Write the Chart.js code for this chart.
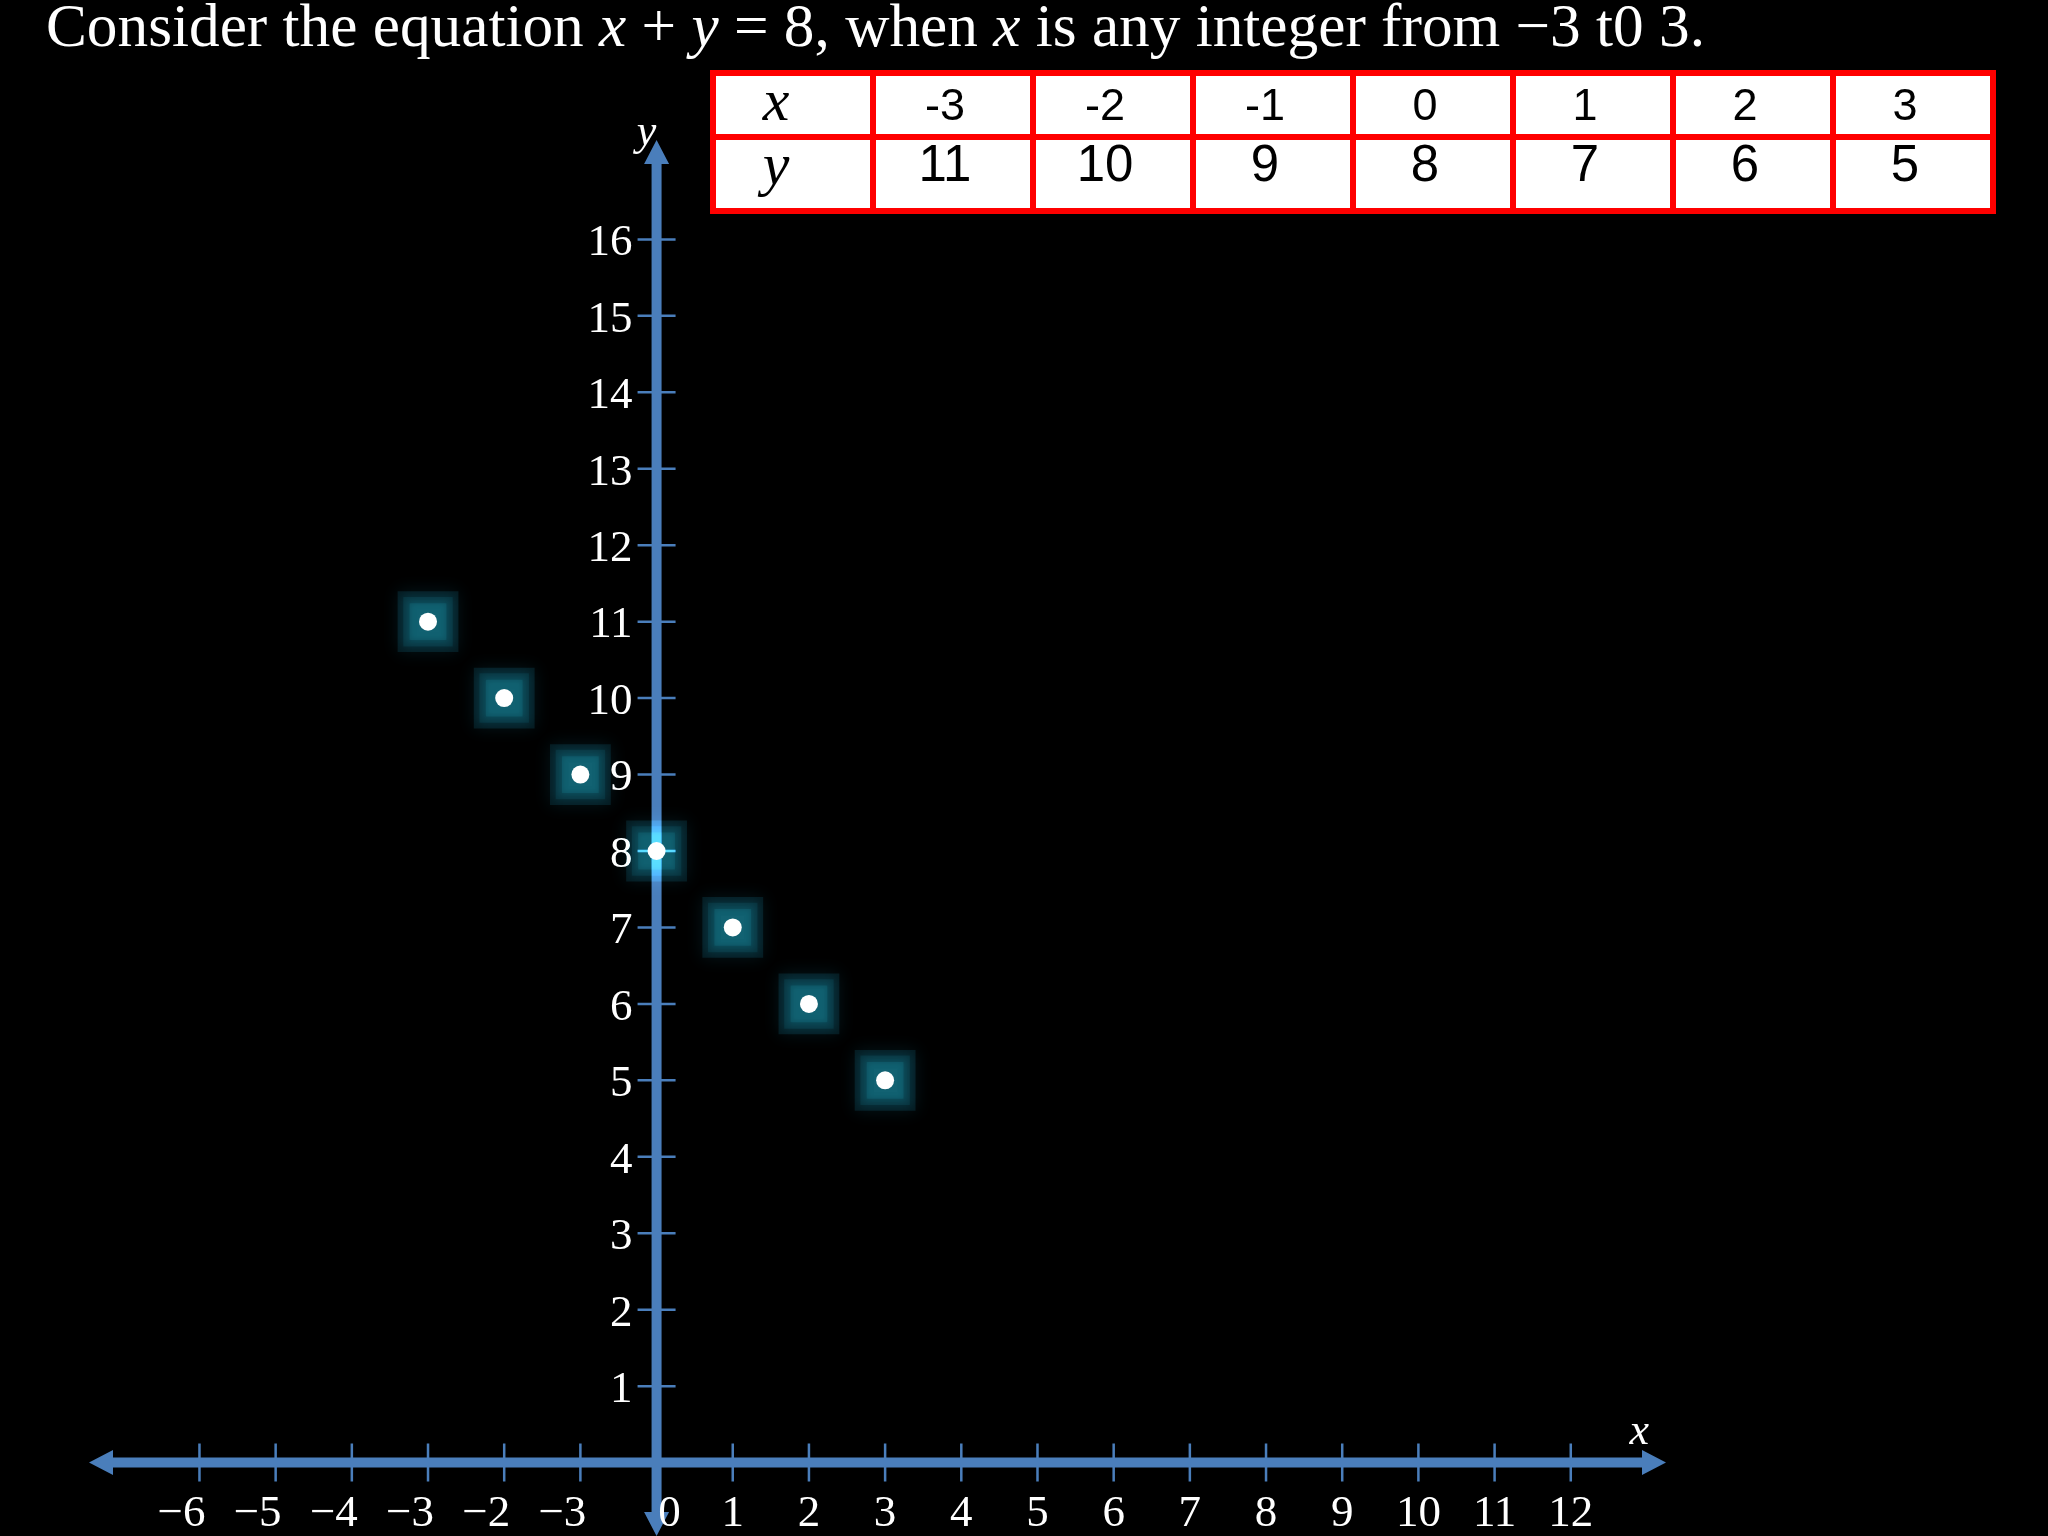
<!DOCTYPE html>
<html>
<head>
<meta charset="utf-8">
<script src="https://cdn.jsdelivr.net/npm/chart.js@4.4.0/dist/chart.umd.min.js"></script>
<style>
  html, body { margin:0; padding:0; background:#000; width:2048px; height:1536px; overflow:hidden; }
  #chartBox { position:absolute; left:0; top:0; width:2048px; height:1536px; }
  #title { position:absolute; left:46px; top:-5px; color:#fff; font-family:"Liberation Serif", "DejaVu Serif", serif;
           font-size:61px; line-height:61px; white-space:nowrap; transform-origin:left top; }
  #title i { font-style:italic; }
  #valTable { position:absolute; left:710px; top:70px; border-collapse:collapse; border:6px solid #ff0000; background:#fff; z-index:2; }
  #valTable td { border:6px solid #ff0000; padding:0; width:154px; background:#fff; }
  #valTable td div { box-sizing:border-box; text-align:center; color:#000; white-space:nowrap; }
  .r1 div { height:58px; line-height:58px; font-family:"Liberation Sans", "Open Sans", sans-serif; font-size:45px; padding-right:16px; }
  .r2 div { height:68px; line-height:48px; font-family:"Liberation Sans", "Open Sans", sans-serif; font-size:51px; padding-right:16px; }
  #valTable td.hd div { font-family:"Liberation Serif", serif; font-style:italic; font-size:60px; padding-right:34px; }
  .r1 td.hd div { position:relative; top:-5px; }
</style>
</head>
<body>
<div id="chartBox"><canvas id="c" width="2048" height="1536"></canvas></div>
<div id="title">Consider the equation <i>x</i> + <i>y</i> = 8, when <i>x</i> is any integer from −3 t0 3.</div>
<table id="valTable"><tbody><tr class="r1"></tr><tr class="r2"></tr></tbody></table>
<script>
// ---- data ----
const xValues = [-3, -2, -1, 0, 1, 2, 3];
const yValues = [11, 10, 9, 8, 7, 6, 5];
const rowNames = ['x', 'y'];
const xTickValues = [-6, -5, -4, -3, -2, -1, 0, 1, 2, 3, 4, 5, 6, 7, 8, 9, 10, 11, 12];
const xTickLabels = ['−6', '−5', '−4', '−3', '−2', '−3', '0', '1', '2', '3', '4', '5', '6', '7', '8', '9', '10', '11', '12'];
const yTickValues = [1, 2, 3, 4, 5, 6, 7, 8, 9, 10, 11, 12, 13, 14, 15, 16];
const yTickLabels = ['1', '2', '3', '4', '5', '6', '7', '8', '9', '10', '11', '12', '13', '14', '15', '16'];
const axisNames = ['x', 'y'];

// ---- table ----
(function buildTable() {
  const rows = document.querySelectorAll('#valTable tr');
  const series = [xValues, yValues];
  rows.forEach((tr, r) => {
    const hd = document.createElement('td');
    hd.className = 'hd';
    hd.innerHTML = '<div>' + rowNames[r] + '</div>';
    tr.appendChild(hd);
    series[r].forEach(v => {
      const td = document.createElement('td');
      const d = document.createElement('div');
      d.textContent = String(v);
      td.appendChild(d);
      tr.appendChild(td);
    });
  });
})();

// ---- title width fit ----
(function fitTitle() {
  const t = document.getElementById('title');
  const w = t.getBoundingClientRect().width;
  const target = 1659;
  t.style.transform = 'scaleX(' + (target / w) + ')';
})();

// ---- chart ----
const AXIS = '#4A7EBB';
const points = xValues.map((x, i) => ({ x: x, y: yValues[i] }));

const axesPlugin = {
  id: 'drawAxes',
  beforeDatasetsDraw(chart) {
    const { ctx, chartArea: a } = chart;
    const xs = chart.scales.x, ys = chart.scales.y;
    const x0 = xs.getPixelForValue(0), y0 = ys.getPixelForValue(0);
    ctx.save();
    ctx.strokeStyle = AXIS;
    ctx.fillStyle = AXIS;
    // tick marks
    ctx.lineWidth = 2.5;
    ctx.beginPath();
    xTickValues.forEach(v => {
      if (v === 0) return;
      const px = xs.getPixelForValue(v);
      ctx.moveTo(px, y0 - 19); ctx.lineTo(px, y0 + 19);
    });
    yTickValues.forEach(v => {
      const py = ys.getPixelForValue(v);
      ctx.moveTo(x0 - 19, py); ctx.lineTo(x0 + 19, py);
    });
    ctx.stroke();
    // axis lines
    const AL = 24, AW = 12.5;
    ctx.lineWidth = 10;
    ctx.beginPath();
    ctx.moveTo(a.left + AL - 2, y0); ctx.lineTo(a.right - AL + 2, y0);
    ctx.moveTo(x0, a.top + AL - 2); ctx.lineTo(x0, a.bottom - AL + 2);
    ctx.stroke();
    // arrow heads
    ctx.beginPath();
    ctx.moveTo(a.left, y0); ctx.lineTo(a.left + AL, y0 - AW); ctx.lineTo(a.left + AL, y0 + AW); ctx.closePath();
    ctx.moveTo(a.right, y0); ctx.lineTo(a.right - AL, y0 - AW); ctx.lineTo(a.right - AL, y0 + AW); ctx.closePath();
    ctx.moveTo(x0, a.top); ctx.lineTo(x0 - AW, a.top + AL); ctx.lineTo(x0 + AW, a.top + AL); ctx.closePath();
    ctx.moveTo(x0, a.bottom); ctx.lineTo(x0 - AW, a.bottom - AL); ctx.lineTo(x0 + AW, a.bottom - AL); ctx.closePath();
    ctx.fill();
    // tick labels
    ctx.fillStyle = '#ffffff';
    ctx.font = '45px "Liberation Serif", "DejaVu Serif", serif';
    ctx.textBaseline = 'middle';
    ctx.textAlign = 'center';
    xTickValues.forEach((v, i) => {
      const px = xs.getPixelForValue(v);
      const off = v < 0 ? -18 : (v === 0 ? 13 : 0);
      ctx.fillText(xTickLabels[i], px + off, y0 + 52);
    });
    ctx.textAlign = 'right';
    yTickValues.forEach((v, i) => {
      const py = ys.getPixelForValue(v);
      ctx.fillText(yTickLabels[i], x0 - 24, py + 4);
    });
    // axis names
    ctx.font = 'italic 44px "Liberation Serif", "DejaVu Serif", serif';
    ctx.textAlign = 'center';
    ctx.fillText(axisNames[0], xs.getPixelForValue(12.9), y0 - 30);
    ctx.fillText(axisNames[1], x0 - 10, a.top - 7);
    ctx.restore();
  }
};

const glowPlugin = {
  id: 'glow',
  beforeDatasetDraw(chart, args) {
    const ds = chart.data.datasets[args.index];
    if (ds.isGlow) {
      chart.ctx.save();
      chart.ctx.globalCompositeOperation = 'lighter';
      chart.ctx.shadowColor = ds.backgroundColor;
      chart.ctx.shadowBlur = ds.blur;
    }
  },
  afterDatasetDraw(chart, args) {
    const ds = chart.data.datasets[args.index];
    if (ds.isGlow) chart.ctx.restore();
  }
};

new Chart(document.getElementById('c'), {
  type: 'scatter',
  data: {
    datasets: [
      { label: 'points', data: points, pointStyle: 'circle', pointRadius: 9, backgroundColor: '#ffffff', borderWidth: 0, order: 0 },
      { label: 'glow inner', data: points, isGlow: true, blur: 6, pointStyle: 'rect', pointRadius: 26, backgroundColor: 'rgb(3,14,15)', borderWidth: 0, order: 1 },
      { label: 'glow mid', data: points, isGlow: true, blur: 8, pointStyle: 'rect', pointRadius: 35, backgroundColor: 'rgb(2,13,15)', borderWidth: 0, order: 2 },
      { label: 'glow outer', data: points, isGlow: true, blur: 16, pointStyle: 'rect', pointRadius: 43, backgroundColor: 'rgb(4,22,27)', borderWidth: 0, order: 3 }
    ]
  },
  options: {
    responsive: false,
    animation: false,
    devicePixelRatio: 1,
    layout: { autoPadding: false, padding: { left: 89, right: 382, top: 140, bottom: 0 } },
    scales: {
      x: { type: 'linear', min: -7.45, max: 13.25, display: false },
      y: { type: 'linear', min: -0.96, max: 17.3, display: false }
    },
    plugins: { legend: { display: false }, tooltip: { enabled: false } },
    events: []
  },
  plugins: [axesPlugin, glowPlugin]
});
</script>
</body>
</html>
